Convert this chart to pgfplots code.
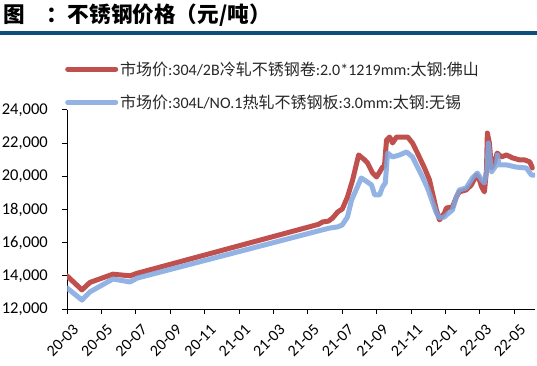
\documentclass[border=0pt]{standalone}
\usepackage{pgfplots}
\pgfplotsset{compat=1.18}
\usepackage{fontspec}
\setmainfont{Carlito}
\newfontfamily\cjk{Noto Sans CJK SC}
\definecolor{myred}{RGB}{192,80,77}
\definecolor{myblue}{RGB}{128,166,224}
\definecolor{titleblue}{RGB}{12,79,124}
\begin{document}
\begin{tikzpicture}
\path[use as bounding box] (0,0) rectangle (537bp,366bp);
\fill[titleblue] (0,331bp) rectangle (537bp,335bp);
\node[anchor=west, font=\cjk\bfseries\fontsize{21.6bp}{24bp}\selectfont, inner sep=0pt] at (3bp,351bp) {图　：不锈钢价格（元/吨）};
\begin{axis}[
  at={(67bp,57bp)}, anchor=south west,
  scale only axis, width=468bp, height=199bp,
  xmin=0, xmax=27.2, ymin=12000, ymax=24000,
  axis x line*=bottom, axis y line*=left,
  axis line style={black, line width=1pt, -},
  tick style={black, line width=1pt},
  tick align=outside, major tick length=5bp,
  xtick={0,2,...,26},
  xticklabels={20-03,20-05,20-07,20-09,20-11,21-01,21-03,21-05,21-07,21-09,21-11,22-01,22-03,22-05},
  ytick={12000,14000,...,24000},
  scaled y ticks=false,
  /pgf/number format/assume math mode=true,
  /pgf/number format/1000 sep={,},
  yticklabel style={font=\fontsize{16.5bp}{19bp}\selectfont, text=black, inner sep=2bp, xshift=-12bp},
  xticklabel style={font=\fontsize{16bp}{19bp}\selectfont, rotate=45, anchor=north east, inner sep=1bp, text=black, xshift=-2bp, yshift=-9bp},
  legend style={at={(axis description cs:0,1)}, anchor=south west, xshift=-2bp, yshift=-2bp,
    draw=none, fill=none, inner sep=0pt, row sep=14bp,
    font=\fontsize{16bp}{19bp}\selectfont, text=black!85,
    /tikz/every even column/.append style={column sep=5bp}},
  legend cell align=left,
  legend image code/.code={\draw[#1] (0bp,0bp) -- (48bp,0bp);},
]
\addplot[myred, line width=5bp, line join=round, line cap=round] coordinates {
(0,14000) (0.87,13150) (1.33,13600) (2.67,14100) (3.66,14000) (4.06,14150)
(14.6,17100) (14.86,17250) (15.2,17300) (15.44,17490) (15.73,17850) (16.0,18030)
(16.3,18750) (16.6,19780) (16.95,21290) (17.3,20990) (17.47,20800) (17.76,20200)
(17.99,19960) (18.17,20260) (18.34,20560) (18.45,20600) (18.57,22190) (18.75,22370)
(18.92,22010) (19.15,22370) (19.5,22370) (19.8,22370) (20.08,22010) (20.37,21400)
(20.78,20500) (21.07,19780) (21.24,19000) (21.47,17970) (21.65,17370) (21.94,17790)
(22.05,18090) (22.4,18150) (22.63,18750) (22.8,19060) (23.2,19180) (23.5,19480)
(23.8,20080) (23.97,19780) (24.1,19360) (24.26,19060) (24.38,20380) (24.43,22610)
(24.55,22010) (24.67,20500) (24.84,20800) (25.0,21400) (25.25,21170) (25.54,21290)
(25.9,21110) (26.3,20990) (26.6,20990) (26.9,20870) (27.05,20500)
};
\addlegendentry{{\cjk 市场价}:304/2B{\cjk 冷轧不锈钢卷}:2.0*1219mm:{\cjk 太钢}:{\cjk 佛山}}
\addplot[myblue, opacity=0.85, line width=5bp, line join=round, line cap=round] coordinates {
(0,13270) (0.87,12540) (1.33,13030) (2.67,13810) (3.66,13630) (4.1,13870)
(14.8,16760) (15.26,16880) (15.73,16950) (16.0,17070) (16.3,17550) (16.54,18570)
(16.8,19180) (17.1,19900) (17.4,19700) (17.7,19480) (17.88,18880) (18.17,18880)
(18.34,19360) (18.5,19600) (18.63,21400) (18.92,21170) (19.33,21290) (19.73,21470)
(20.08,21170) (20.37,20560) (20.66,19960) (20.95,19300) (21.24,18450) (21.47,17790)
(21.65,17490) (21.94,17550) (22.05,17670) (22.4,17970) (22.63,18750) (22.8,19180)
(23.2,19300) (23.56,19900) (23.85,20200) (24.1,19780) (24.26,19600) (24.4,20380)
(24.49,22010) (24.55,21400) (24.67,20260) (24.96,20690) (25.02,21290) (25.1,20690)
(25.54,20690) (26.1,20560) (26.7,20500) (26.99,20080) (27.16,20080)
};
\addlegendentry{{\cjk 市场价}:304L/NO.1{\cjk 热轧不锈钢板}:3.0mm:{\cjk 太钢}:{\cjk 无锡}}
\end{axis}
\end{tikzpicture}
\end{document}
